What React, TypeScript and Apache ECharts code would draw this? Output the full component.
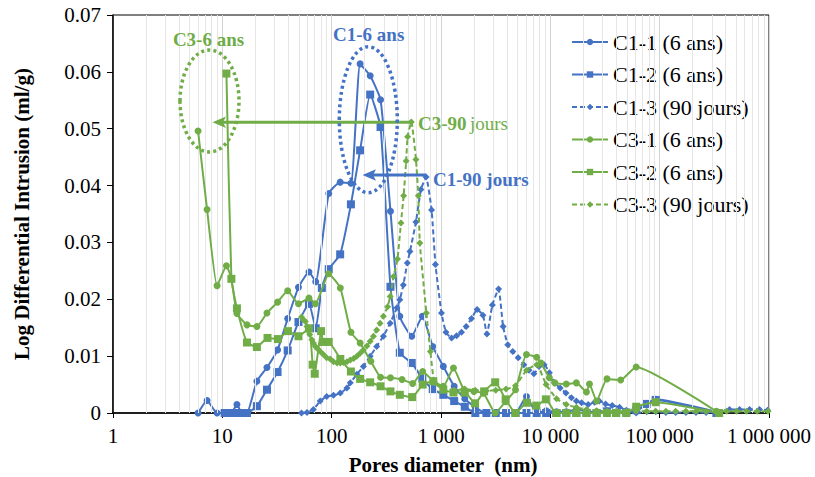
import React, { useEffect, useRef } from 'react';
import * as echarts from 'echarts';

const BLUE = '#4472C4';
const GREEN = '#70AD47';
const FONT = '"Liberation Serif", "Times New Roman", serif';

const seriesNames = ['C1-1 (6 ans)', 'C1-2 (6 ans)', 'C1-3 (90 jours)', 'C3-1 (6 ans)', 'C3-2 (6 ans)', 'C3-3 (90 jours)'];

// [pore diameter (nm), log differential intrusion (ml/g)]
const c11: [number, number][] = [
  [6.0, 0], [7.25, 0.0022], [8.95, 0], [10.9, 0], [12.1, 0], [13.6, 0.0015], [15.1, 0], [16.8, 0],
  [20.7, 0.0056], [25.6, 0.008], [32, 0.0111], [39.6, 0.0166], [49.7, 0.0221], [62, 0.0248], [71.5, 0.0231],
  [94, 0.0386], [119.6, 0.0406], [150, 0.0404], [182, 0.0614], [225, 0.0593], [280, 0.0551], [345, 0.0355],
  [420, 0.017], [540, 0.0135], [675, 0.017], [840, 0.0117], [1050, 0.0082], [1320, 0.0047], [1650, 0.0025],
  [2060, 0.001], [2600, 0], [3170, 0], [3930, 0], [4800, 0], [6050, 0.0029], [7500, 0], [9150, 0.0004],
  [11400, 0.0002], [14000, 0.0002], [17300, 0.0006], [21400, 0.0003], [26500, 0.0002], [33000, 0.0004],
  [40000, 0.0001], [49500, 0.0002], [61000, 0.0004], [76000, 0.0015], [92000, 0.0024], [330000, 0.0002],
];

const c12: [number, number][] = [
  [10.5, 0], [11.4, 0], [12.5, 0], [13.6, 0], [15.1, 0], [16.8, 0], [20.7, 0.0012], [25.6, 0.0041], [32, 0.0072],
  [39.6, 0.011], [49.7, 0.016], [62, 0.0192], [71.5, 0.0149], [81.3, 0.022], [94, 0.0253], [119.6, 0.0279],
  [150, 0.0367], [182, 0.0462], [225, 0.056], [280, 0.0503], [345, 0.0222], [420, 0.0106], [540, 0.0088],
  [675, 0.0061], [840, 0.0042], [1050, 0.0032], [1320, 0.0021], [1650, 0.0011], [2060, 0], [2600, 0], [3170, 0],
  [3930, 0], [4800, 0], [6050, 0], [7500, 0], [9150, 0], [11400, 0], [14000, 0], [17300, 0], [21400, 0],
  [26500, 0], [33000, 0.0003], [40000, 0], [49500, 0.0001], [61000, 0.0005], [76000, 0.0016], [92000, 0.0023],
  [330000, 0],
];

const c13: [number, number][] = [
  [53, 0], [59.5, 0.0001], [68, 0.0006], [78.5, 0.0021], [90, 0.0029], [104, 0.0031], [120, 0.0035], [138, 0.0044],
  [148, 0.0053], [170, 0.0068], [195, 0.0082], [225, 0.01], [258, 0.0117], [297, 0.0135], [343, 0.0158],
  [395, 0.0185], [420, 0.0199], [452, 0.0225], [492, 0.0264], [520, 0.0284], [590, 0.0336], [655, 0.0393],
  [730, 0.0415], [820, 0.0357], [890, 0.0261], [1010, 0.0176], [1110, 0.0142], [1250, 0.0132], [1390, 0.0136],
  [1540, 0.0142], [1700, 0.0152], [1900, 0.0166], [2140, 0.0182], [2420, 0.0172], [2630, 0.0139], [2950, 0.019],
  [3360, 0.0218], [3700, 0.0152], [4080, 0.012], [4530, 0.0108], [5080, 0.0097], [5720, 0.0085], [6380, 0.0075],
  [7070, 0.0069], [7880, 0.0082], [8780, 0.0085], [9800, 0.0071], [10900, 0.0053], [12300, 0.0044],
  [13900, 0.0035], [15600, 0.0027], [17300, 0.0021], [19300, 0.0018], [22200, 0.0015], [25400, 0.0019],
  [28000, 0.0021], [32000, 0.0016], [36800, 0.0013], [43000, 0.001], [49500, 0.0005], [61000, 0],
  [76000, 0.0002], [92000, 0.0002], [114000, 0.0001], [140000, 0.0001], [174000, 0.0001], [215000, 0.0001],
  [266000, 0.0001], [330000, 0.0002], [436000, 0.0006], [538000, 0.0006], [664000, 0.0006], [819000, 0.0006],
  [969000, 0.0005],
];

const c31: [number, number][] = [
  [6.0, 0.0496], [7.25, 0.0358], [8.95, 0.0224], [10.9, 0.0259], [12.1, 0.0236], [13.6, 0.0175], [16.8, 0.0155],
  [20.7, 0.0152], [25.6, 0.0176], [32, 0.0195], [39.6, 0.0215], [49.7, 0.0192], [62, 0.0202], [71, 0.0192],
  [94, 0.0245], [120, 0.022], [150, 0.0142], [182, 0.0123], [228, 0.0091], [280, 0.0063], [345, 0.0062],
  [440, 0.0059], [550, 0.0052], [680, 0.0073], [850, 0.0056], [1050, 0.0047], [1300, 0.0079], [1620, 0.0041],
  [2000, 0.0038], [2450, 0.0035], [3130, 0], [3900, 0.002], [4800, 0.0041], [6050, 0.0103], [7500, 0.0098],
  [8200, 0.0088], [9800, 0.0062], [11000, 0.0053], [14000, 0.0051], [17300, 0.0053], [21400, 0.0037],
  [22800, 0.0051], [26500, 0.0021], [33000, 0.006], [44000, 0.0058], [61000, 0.0081], [330000, 0.0003],
];

const c32: [number, number][] = [
  [10.9, 0.0597], [12.1, 0.0236], [13.6, 0.0184], [16.8, 0.0124], [20.7, 0.0116], [25.9, 0.0132], [32.2, 0.013],
  [39.8, 0.0144], [49.7, 0.0135], [62, 0.0149], [67, 0.0085], [70, 0.0069], [80, 0.0144], [84, 0.0125],
  [94, 0.0125], [120, 0.0095], [150, 0.0073], [182, 0.006], [225, 0.0054], [280, 0.0047], [345, 0.0038],
  [420, 0.0032], [545, 0.0028], [680, 0.005], [850, 0.0056], [1050, 0.0041], [1300, 0.0036], [1650, 0.0036],
  [2050, 0.0017], [2480, 0.0038], [3130, 0.0054], [3900, 0.0024], [4800, 0], [6100, 0.0018], [7450, 0.0013],
  [9100, 0.0024], [11300, 0], [14000, 0], [17300, 0], [21400, 0], [26500, 0], [33000, 0], [40000, 0],
  [49500, 0], [61000, 0.0011], [92000, 0.0019], [350000, 0],
];

const c33: [number, number][] = [
  [53, 0.0169], [55, 0.0164], [57.5, 0.0161], [59.5, 0.0152], [61.5, 0.0144], [63, 0.0138], [66, 0.0129],
  [68, 0.0123], [71, 0.0117], [75, 0.0112], [78.5, 0.0108], [84, 0.0103], [90, 0.0097], [97, 0.0095],
  [104, 0.009], [112, 0.0088], [120, 0.0088], [128, 0.0089], [138, 0.009], [148, 0.0093], [159, 0.0096],
  [170, 0.01], [182, 0.0105], [195, 0.0111], [210, 0.0118], [225, 0.0126], [241, 0.0135], [258, 0.0146],
  [277, 0.0158], [297, 0.017], [325, 0.0187], [343, 0.0205], [368, 0.024], [400, 0.0271], [430, 0.0334],
  [455, 0.0382], [480, 0.0443], [495, 0.0486], [535, 0.0512], [590, 0.0446], [620, 0.0382], [640, 0.0299],
  [735, 0.0176], [800, 0.0108], [870, 0.0054], [1050, 0.0041], [1320, 0.004], [1650, 0.0042], [2060, 0.004],
  [2600, 0.0039], [3170, 0.004], [3930, 0.0042], [4800, 0.0048], [6050, 0.0075], [7500, 0.0085], [9150, 0.005],
  [11400, 0.0025], [14000, 0.0015], [17300, 0.001], [21400, 0.0006], [26500, 0.0004], [33000, 0.0003],
  [40000, 0.0003], [49500, 0.0003], [61000, 0.0003], [76000, 0.0003], [92000, 0.0003], [114000, 0.0003],
  [140000, 0.0003], [174000, 0.0003], [215000, 0.0003], [266000, 0.0003], [330000, 0.0003], [410000, 0.0003],
  [505000, 0.0003], [622000, 0.0003], [780000, 0.0003], [980000, 0.0003],
];

const xMin = 1;
const xMax = 1000000;
const yMin = 0;
const yMax = 0.07;
const yStep = 0.01;

const minorGrid: number[] = [];
for (let p = 0; p < 6; p++) {
  for (let k = 2; k <= 9; k++) minorGrid.push(k * Math.pow(10, p));
}

function fmtX(v: number): string {
  return String(Math.round(v)).replace(/\B(?=(\d{3})+(?!\d))/g, ' ');
}

const seriesDefs = [
  { data: c11, color: BLUE, symbol: 'circle', size: 7, dashed: false },
  { data: c12, color: BLUE, symbol: 'rect', size: 8, dashed: false },
  { data: c13, color: BLUE, symbol: 'diamond', size: 7, dashed: true },
  { data: c31, color: GREEN, symbol: 'circle', size: 7, dashed: false },
  { data: c32, color: GREEN, symbol: 'rect', size: 8, dashed: false },
  { data: c33, color: GREEN, symbol: 'diamond', size: 7, dashed: true },
];

export default function App() {
  const ref = useRef<HTMLDivElement>(null);
  useEffect(() => {
    if (!ref.current) return;
    const chart = echarts.init(ref.current, null, { renderer: 'svg' });
    const series: any[] = seriesDefs.map((s, i) => ({
      name: seriesNames[i],
      type: 'line',
      data: s.data,
      symbol: s.symbol,
      symbolSize: s.size,
      showAllSymbol: true,
      smooth: 0.15,
      z: 3 + i,
      itemStyle: { color: s.color },
      lineStyle: { color: s.color, width: 2, type: s.dashed ? [5, 3] : 'solid' },
    }));
    series.unshift({
      name: 'grid-minor',
      type: 'line',
      data: [],
      z: 1,
      silent: true,
      markLine: {
        silent: true,
        symbol: 'none',
        label: { show: false },
        lineStyle: { color: '#e6e6e6', width: 1, type: 'solid' },
        data: minorGrid.map((v) => ({ xAxis: v })),
      },
    });

    const g = GREEN;
    const b = BLUE;
    chart.setOption({
      animation: false,
      backgroundColor: '#fff',
      textStyle: { fontFamily: FONT },
      grid: { left: 113, right: 46, top: 15, bottom: 64, show: true, borderColor: '#000', borderWidth: 1 },
      legend: {
        data: seriesNames,
        orient: 'vertical',
        left: 566,
        top: 26,
        itemWidth: 36,
        itemHeight: 8,
        itemGap: 10.5,
        textStyle: { fontFamily: FONT, fontSize: 22, color: '#000', lineHeight: 22 },
      },
      xAxis: {
        type: 'log',
        logBase: 10,
        min: xMin,
        max: xMax,
        axisLine: { show: true, lineStyle: { color: '#000', width: 1.5 } },
        axisTick: { show: true, length: 5, lineStyle: { color: '#000' } },
        axisLabel: { formatter: fmtX, fontFamily: FONT, fontSize: 21, color: '#000', margin: 12 },
        splitLine: { show: true, lineStyle: { color: '#d4d4d4', width: 1 } },
      },
      yAxis: {
        type: 'value',
        min: yMin,
        max: yMax,
        interval: yStep,
        axisLine: { show: true, lineStyle: { color: '#000', width: 1.5 } },
        axisTick: { show: true, length: 6, lineStyle: { color: '#000' } },
        axisLabel: {
          formatter: (v: number) => (v === 0 ? '0' : v.toFixed(2)),
          fontFamily: FONT,
          fontSize: 21,
          color: '#000',
          margin: 12,
        },
        splitLine: { show: false },
      },
      series,
      graphic: [
        {
          type: 'text', x: 22, y: 214, rotation: Math.PI / 2, z: 100,
          style: { text: 'Log Differential Intrusion (ml/g)', font: `bold 21px ${FONT}`, fill: '#000', align: 'center', verticalAlign: 'middle' },
        },
        {
          type: 'text', x: 443, y: 465, z: 100,
          style: { text: 'Pores diameter  (nm)', font: `bold 21px ${FONT}`, fill: '#000', align: 'center', verticalAlign: 'middle' },
        },
        // C3 annotation
        {
          type: 'ellipse', z: 100, silent: true,
          shape: { cx: 209.5, cy: 101, rx: 29.5, ry: 51 },
          style: { fill: 'none', stroke: g, lineWidth: 3.5, lineDash: [3, 3.2] },
        },
        {
          type: 'text', x: 208.5, y: 39, z: 100,
          style: { text: 'C3-6 ans', font: `bold 19px ${FONT}`, fill: g, align: 'center', verticalAlign: 'middle' },
        },
        {
          type: 'line', z: 100, silent: true,
          shape: { x1: 411, y1: 122.3, x2: 222, y2: 122.3 },
          style: { stroke: g, lineWidth: 3 },
        },
        {
          type: 'polygon', z: 100, silent: true,
          shape: { points: [[212.5, 122.3], [226, 116.5], [223, 122.3], [226, 128.1]] },
          style: { fill: g },
        },
        {
          type: 'text', x: 418, y: 123, z: 100,
          style: {
            text: '{b|C3-90} {n|jours}',
            align: 'left', verticalAlign: 'middle',
            rich: {
              b: { fontFamily: FONT, fontSize: 19, fontWeight: 'bold', fill: g, color: g },
              n: { fontFamily: FONT, fontSize: 19, fontWeight: 'normal', fill: g, color: g },
            },
          },
        },
        // C1 annotation
        {
          type: 'ellipse', z: 100, silent: true,
          shape: { cx: 368.3, cy: 119.7, rx: 29, ry: 73 },
          style: { fill: 'none', stroke: b, lineWidth: 3.5, lineDash: [3, 3.2] },
        },
        {
          type: 'text', x: 368.7, y: 34.5, z: 100,
          style: { text: 'C1-6 ans', font: `bold 19px ${FONT}`, fill: b, align: 'center', verticalAlign: 'middle' },
        },
        {
          type: 'line', z: 100, silent: true,
          shape: { x1: 426, y1: 175, x2: 372, y2: 175 },
          style: { stroke: b, lineWidth: 3 },
        },
        {
          type: 'polygon', z: 100, silent: true,
          shape: { points: [[362.5, 175], [376, 169.2], [373, 175], [376, 180.8]] },
          style: { fill: b },
        },
        {
          type: 'text', x: 433, y: 179.5, z: 100,
          style: { text: 'C1-90 jours', font: `bold 19px ${FONT}`, fill: b, align: 'left', verticalAlign: 'middle' },
        },
      ],
    });
    return () => chart.dispose();
  }, []);
  return <div ref={ref} style={{ position: 'fixed', left: 0, top: 0, width: 815, height: 477 }} />;
}
